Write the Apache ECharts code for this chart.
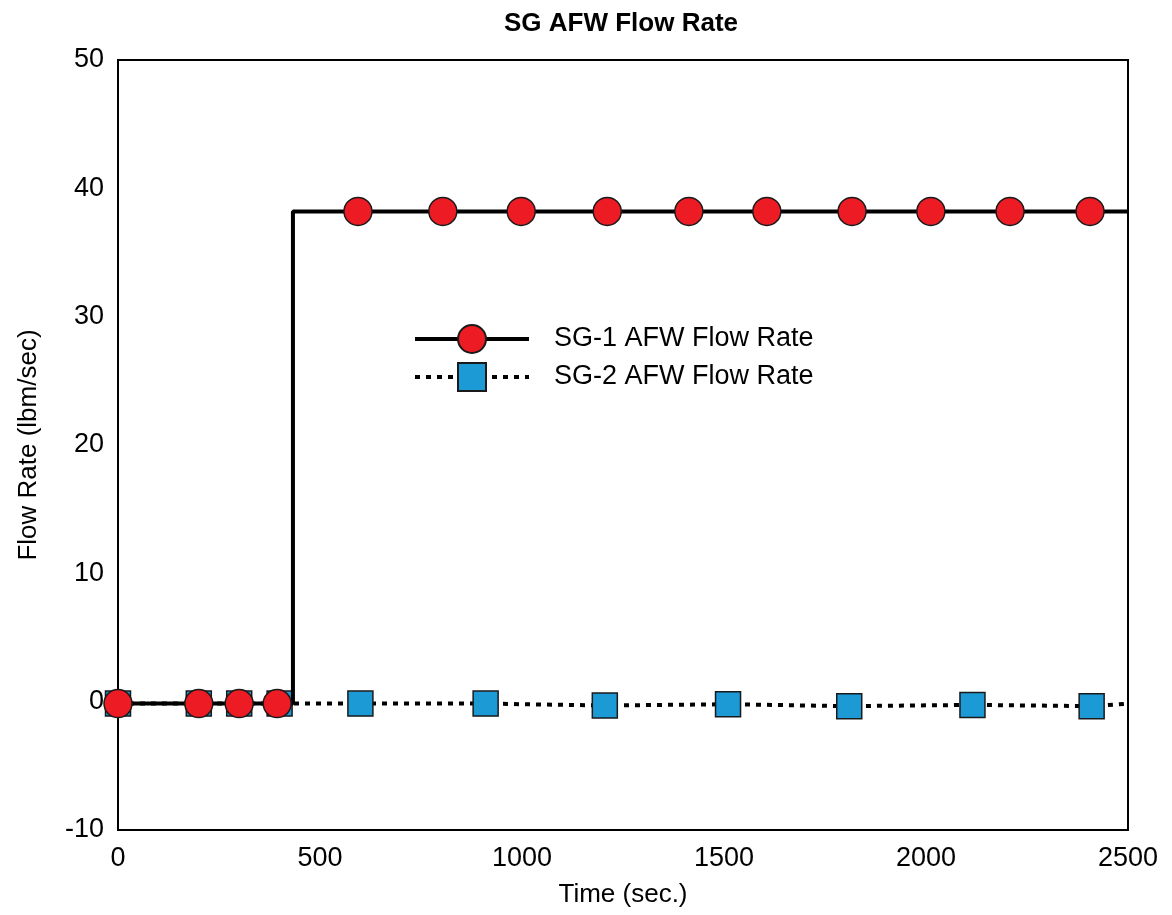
<!DOCTYPE html>
<html>
<head>
<meta charset="utf-8">
<script src="https://cdn.jsdelivr.net/npm/echarts@6/dist/echarts.min.js"></script>
<style>
html,body{margin:0;padding:0;background:#fff;}
#chart{width:1172px;height:915px;}
</style>
</head>
<body>
<div id="chart"></div>
<script>
// ---- data ----
var xTicks = [0, 500, 1000, 1500, 2000, 2500];
var yTicks = [-10, 0, 10, 20, 30, 40, 50];

// SG-1: line vertices (step) and marker samples
var sg1LineTime = [0, 433, 433, 2500];
var sg1LineFlow = [-0.15, -0.15, 38.2, 38.2];
var sg1MarkTime = [0, 200, 300, 394, 594, 804, 998, 1211, 1413, 1606, 1817, 2012, 2208, 2406];
var sg1MarkFlow = [-0.15, -0.15, -0.15, -0.15, 38.2, 38.2, 38.2, 38.2, 38.2, 38.2, 38.2, 38.2, 38.2, 38.2];

// SG-2: line vertices and marker samples
var sg2LineTime = [0, 2500];
var sg2LineFlow = [-0.15, -0.15];
var sg2MarkTime = [0, 200, 300, 400, 600, 910, 1205, 1510, 1810, 2115, 2410];
var sg2MarkFlow = [-0.15, -0.15, -0.15, -0.15, -0.15, -0.15, -0.3, -0.2, -0.35, -0.25, -0.35];

var seriesNames = ['SG-1 AFW Flow Rate', 'SG-2 AFW Flow Rate'];

function merge(lt, lf, mt, mf) {
  var line = [], marks = [];
  for (var i = 0; i < lt.length; i++) line.push({t: lt[i], f: lf[i], m: false});
  for (var j = 0; j < mt.length; j++) marks.push({t: mt[j], f: mf[j], m: true});
  var out = [];
  var mi = 0;
  for (var k = 0; k < line.length; k++) {
    while (mi < marks.length && (marks[mi].t < line[k].t || (marks[mi].t === line[k].t && k === 0))) {
      out.push(marks[mi]); mi++;
    }
    out.push(line[k]);
  }
  while (mi < marks.length) { out.push(marks[mi]); mi++; }
  return out.map(function(p){
    var d = {value: [p.t, p.f]};
    if (!p.m) d.symbol = 'none';
    return d;
  });
}

var sg1Data = merge(sg1LineTime, sg1LineFlow, sg1MarkTime, sg1MarkFlow);
var sg2Data = merge(sg2LineTime, sg2LineFlow, sg2MarkTime, sg2MarkFlow);

var chart = echarts.init(document.getElementById('chart'), null, {renderer: 'canvas'});
var font = 'Liberation Sans';
var option = {
  backgroundColor: '#fff',
  animation: false,
  title: {
    text: 'SG AFW Flow Rate',
    left: 616, top: 6, textAlign: 'center',
    textStyle: {fontFamily: font, fontWeight: 'bold', fontSize: 26, color: '#000'}
  },
  legend: {
    data: seriesNames,
    orient: 'vertical',
    left: 408, top: 319,
    itemWidth: 114, itemHeight: 35, itemGap: 4 + 4,
    lineStyle: {width: 4},
    textStyle: {fontFamily: font, fontSize: 27, color: '#000', padding: [0,0,0,20]}
  },
  grid: {
    left: 118, top: 60, right: 44, bottom: 85,
    show: true, borderColor: '#000', borderWidth: 2, backgroundColor: 'transparent'
  },
  xAxis: {
    type: 'value', min: 0, max: 2500, interval: 500,
    name: 'Time (sec.)', nameLocation: 'middle', nameGap: 52,
    nameTextStyle: {fontFamily: font, fontSize: 26, color: '#000'},
    axisLine: {show: false}, axisTick: {show: false}, splitLine: {show: false},
    axisLabel: {fontFamily: font, fontSize: 27, color: '#000', margin: 15,
      formatter: function (v) { return String(v); }}
  },
  yAxis: {
    type: 'value', min: -10, max: 50, interval: 10,
    name: 'Flow Rate (lbm/sec)', nameLocation: 'middle', nameGap: 76,
    nameTextStyle: {fontFamily: font, fontSize: 26, color: '#000'},
    axisLine: {show: false}, axisTick: {show: false}, splitLine: {show: false},
    axisLabel: {fontFamily: font, fontSize: 27, color: '#000', margin: 14,
      formatter: function (v) { return String(v); }}
  },
  series: [
    {
      name: seriesNames[0], type: 'line', z: 4,
      data: sg1Data,
      symbol: 'circle', symbolSize: 28, showAllSymbol: true,
      lineStyle: {color: '#000', width: 4},
      itemStyle: {color: '#ed1c24', borderColor: '#1a1a1a', borderWidth: 1.5}
    },
    {
      name: seriesNames[1], type: 'line', z: 3,
      data: sg2Data,
      symbol: 'rect', symbolSize: 25, showAllSymbol: true,
      lineStyle: {color: '#000', width: 4, type: [5, 6], cap: 'butt'},
      itemStyle: {color: '#1b9ad6', borderColor: '#1a1a1a', borderWidth: 1.5}
    }
  ]
};
chart.setOption(option);
</script>
</body>
</html>
